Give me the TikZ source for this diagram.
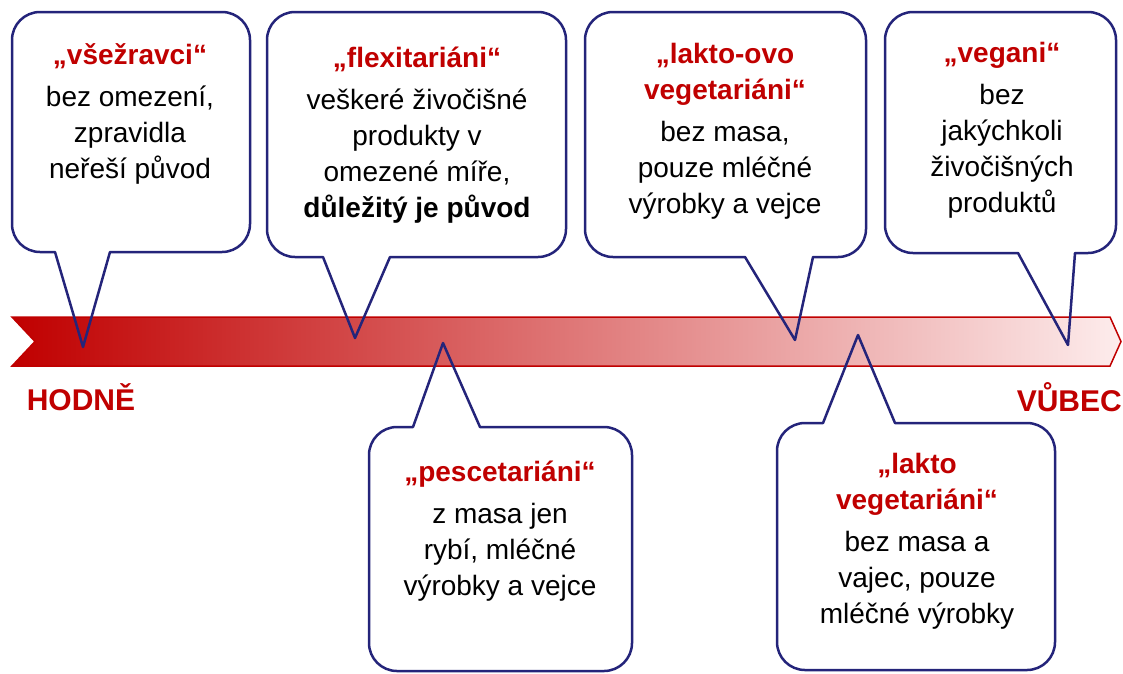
\documentclass[tikz,border=0pt]{standalone}
\usepackage{fontspec}
\setmainfont{Liberation Sans}
\usepackage{tikz}
\usetikzlibrary{positioning}
\definecolor{dietred}{RGB}{192,0,0}
\definecolor{bubbleblue}{RGB}{36,36,122}
\definecolor{palepink}{RGB}{253,236,236}
\tikzstyle{bubble} = [draw=bubbleblue, line width=2.5pt, line join=round]
\tikzstyle{bubbletext} = [align=center, inner sep=0pt,
font=\fontsize{28}{36}\selectfont]
\tikzstyle{scale label} = [inner sep=0pt, text=dietred,
font=\fontsize{30}{30}\selectfont\bfseries]
\newcommand{\ttl}[1]{\textcolor{dietred}{\bfseries #1}}
\newcommand{\bubble}[7]{ %
  % Box from x #1 to #3, pointer side at y #2, far side at y #4,
  % pointer leaves the box between #5 and #6 and ends at node #7.
  \draw[bubble] (#5,#2) [rounded corners=28pt] -- (#1,#2) -- (#1,#4)
    -- (#3,#4) -- (#3,#2) [sharp corners] -- (#6,#2) -- (#7) -- cycle ;
}

\begin{document}
\begin{tikzpicture}[x=1pt, y=-1pt]
  \useasboundingbox (0,0) rectangle (1123,673);
  % the scale arrow
  \shade[left color=dietred, right color=palepink, draw=dietred, line width=1.5pt]
    (12,317) -- (1110,317) -- (1121,341.5) -- (1110,366) -- (12,366)
    -- (35,341.5) -- cycle;
  \node[scale label](many) at (81,397) {HODNĚ};
  \node[scale label, anchor=east](none) at (1122,397) {VŮBEC};
  % pointer tips
  \coordinate (tip1) at (83,347);
  \coordinate (tip2) at (355,338);
  \coordinate (tip3) at (795,340);
  \coordinate (tip4) at (1068,345);
  \coordinate (tip5) at (443,343);
  \coordinate (tip6) at (858,335);
  % callouts
  \bubble{12}{252}{250}{12}{55}{110}{tip1};
  \bubble{267}{257}{566}{12}{323}{390}{tip2};
  \bubble{585}{257}{866}{12}{745}{813}{tip3};
  \bubble{885}{253}{1116}{12}{1018}{1075}{tip4};
  \bubble{369}{427}{632}{671}{413}{480}{tip5};
  \bubble{777}{423}{1055}{670}{823}{895}{tip6};
  % texts
  \node[bubbletext](omni) at (130,114) {\ttl{„všežravci“}\\[6pt]
    bez omezení,\\zpravidla\\neřeší původ};
  \node[bubbletext](flexi) at (417,135) {\ttl{„flexitariáni“}\\[6pt]
    veškeré živočišné\\produkty v\\omezené míře,\\\textbf{důležitý je původ}};
  \node[bubbletext](lovo) at (725,131) {\ttl{„lakto-ovo}\\\ttl{vegetariáni“}\\[6pt]
    bez masa,\\pouze mléčné\\výrobky a vejce};
  \node[bubbletext](vegan) at (1002,130) {\ttl{„vegani“}\\[6pt]
    bez\\jakýchkoli\\živočišných\\produktů};
  \node[bubbletext](pesc) at (500,531) {\ttl{„pescetariáni“}\\[6pt]
    z masa jen\\rybí, mléčné\\výrobky a vejce};
  \node[bubbletext](lacto) at (917,541) {\ttl{„lakto}\\\ttl{vegetariáni“}\\[6pt]
    bez masa a\\vajec, pouze\\mléčné výrobky};
\end{tikzpicture}
\end{document}
